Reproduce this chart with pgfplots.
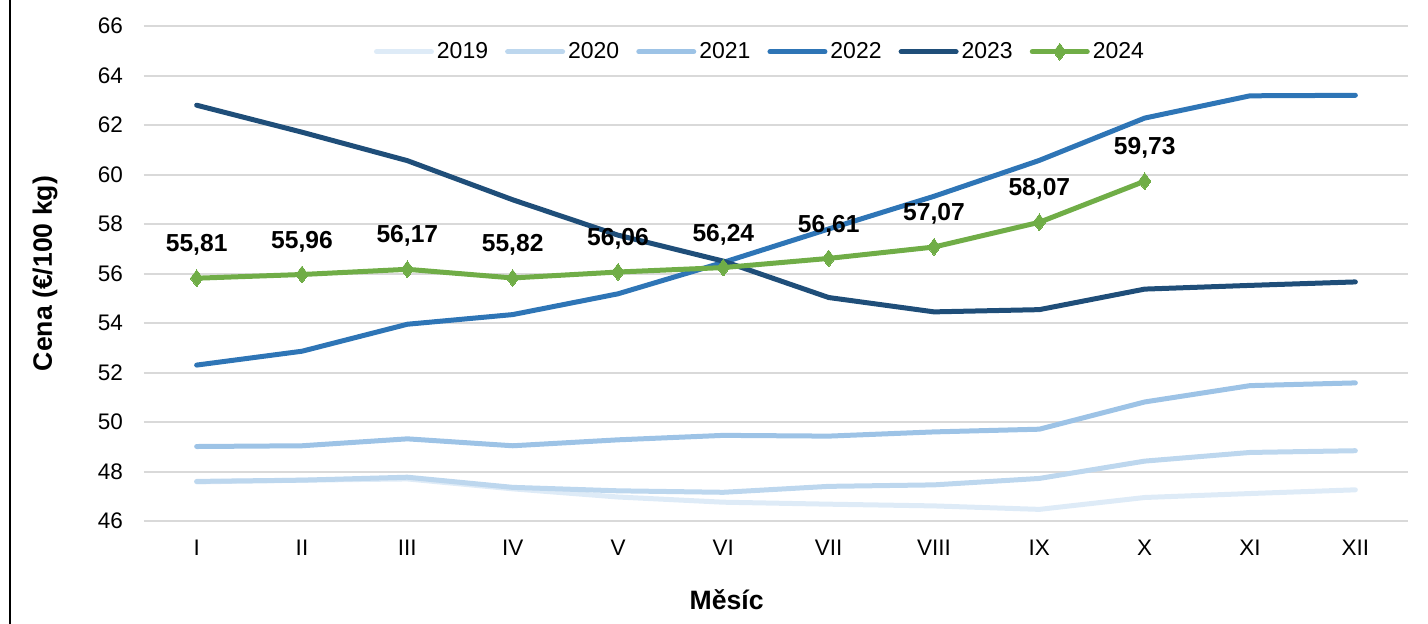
\documentclass[border=0pt]{standalone}
\usepackage{pgfplots}
\pgfplotsset{compat=1.18}
\usepackage{fontspec}
\setmainfont{Liberation Sans}
\definecolor{c19}{RGB}{222,235,247}
\definecolor{c20}{RGB}{189,215,238}
\definecolor{c21}{RGB}{157,195,230}
\definecolor{c22}{RGB}{46,117,182}
\definecolor{c23}{RGB}{31,78,121}
\definecolor{c24}{RGB}{112,173,71}
\definecolor{gridc}{RGB}{217,217,217}
\begin{document}
\begin{tikzpicture}
\draw[black, line width=1pt] (-67pt,-52pt) -- (-67pt,261pt);
\begin{axis}[
  at={(0pt,0pt)}, anchor=south west,
  scale only axis, width=632pt, height=247.5pt,
  xmin=-0.5, xmax=11.5, ymin=46, ymax=66,
  xtick={0,...,11},
  xticklabels={I,II,III,IV,V,VI,VII,VIII,IX,X,XI,XII},
  ytick={46,48,...,66},
  axis line style={draw=none},
  major tick length=0pt,
  ymajorgrids, grid style={color=gridc, line width=1pt},
  /pgf/number format/assume math mode=true,
  ticklabel style={font=\fontsize{11.25}{13}\selectfont, text=black},
  yticklabel style={xshift=-7pt},
  xticklabel style={yshift=-6pt},
  ylabel={Cena (€/100 kg)},
  ylabel style={at={(axis description cs:-0.0783,0.5)}, anchor=center, font=\bfseries\fontsize{13.3}{15}\selectfont},
  xlabel={Měsíc},
  xlabel style={at={(axis description cs:0.461,-0.1596)}, anchor=center, font=\bfseries\fontsize{13.3}{15}\selectfont},
  legend columns=6,
  legend style={draw=none, fill=none, at={(axis description cs:0.4877,0.948)}, anchor=center,
    /tikz/every even column/.append style={column sep=7pt},
    nodes={inner xsep=1.5pt, inner ysep=1pt, font=\fontsize{11.5}{13}\selectfont}},
  legend image code/.code={\draw[mark repeat=2, mark phase=2, #1] plot coordinates {(0pt,0pt) (13.75pt,0pt) (27.5pt,0pt)};},
  every axis plot/.append style={line width=2.5pt, line join=round, line cap=round},
]
\addplot[c19, no marks] coordinates {(0,47.58) (1,47.65) (2,47.70) (3,47.30) (4,46.97) (5,46.76) (6,46.68) (7,46.61) (8,46.47) (9,46.95) (10,47.11) (11,47.26)};
\addlegendentry{2019}
\addplot[c20, no marks] coordinates {(0,47.60) (1,47.65) (2,47.77) (3,47.36) (4,47.22) (5,47.16) (6,47.40) (7,47.46) (8,47.72) (9,48.42) (10,48.77) (11,48.84)};
\addlegendentry{2020}
\addplot[c21, no marks] coordinates {(0,49.01) (1,49.04) (2,49.32) (3,49.04) (4,49.28) (5,49.46) (6,49.43) (7,49.60) (8,49.71) (9,50.81) (10,51.47) (11,51.58)};
\addlegendentry{2021}
\addplot[c22, no marks] coordinates {(0,52.30) (1,52.86) (2,53.95) (3,54.34) (4,55.18) (5,56.45) (6,57.80) (7,59.12) (8,60.57) (9,62.28) (10,63.18) (11,63.20)};
\addlegendentry{2022}
\addplot[c23, no marks] coordinates {(0,62.80) (1,61.71) (2,60.56) (3,58.98) (4,57.55) (5,56.50) (6,55.03) (7,54.45) (8,54.54) (9,55.37) (10,55.52) (11,55.66)};
\addlegendentry{2023}
\addplot[c24, mark=diamond*, mark size=4.2pt, mark options={solid, line width=0pt, fill=c24},
  nodes near coords,
  point meta=y,
  nodes near coords style={anchor=center, yshift=16.5pt, text=black, font=\bfseries\fontsize{12.3}{14}\selectfont,
    /pgf/number format/.cd, fixed, fixed zerofill, precision=2, use comma, assume math mode=true}]
  coordinates {(0,55.81) (1,55.96) (2,56.17) (3,55.82) (4,56.06) (5,56.24) (6,56.61) (7,57.07) (8,58.07) (9,59.73)};
\addlegendentry{2024}
\end{axis}
\pgfresetboundingbox
\path[use as bounding box] (-72pt,-51pt) rectangle (642pt,260.5pt);
\end{tikzpicture}
\end{document}
